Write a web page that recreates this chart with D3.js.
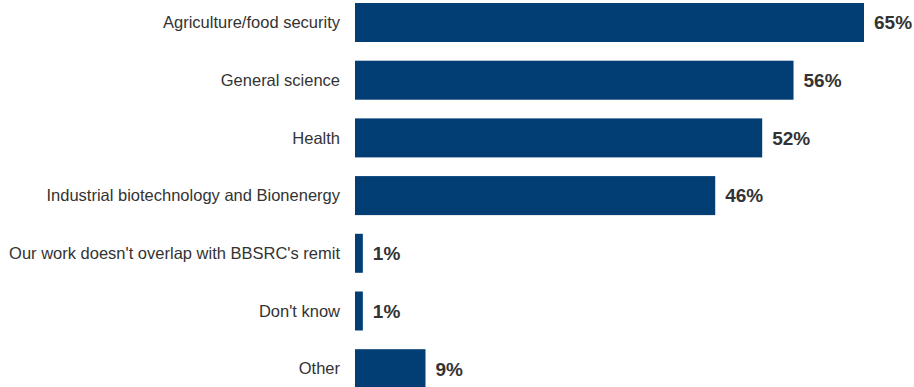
<!DOCTYPE html>
<html>
<head>
<meta charset="utf-8">
<script src="https://cdn.jsdelivr.net/npm/d3@7"></script>
<style>
  html, body { margin: 0; padding: 0; background: #fff; }
  svg { display: block; }
  text { font-family: "Liberation Sans", Arial, Helvetica, sans-serif; }
</style>
</head>
<body>
<svg id="chart" width="914" height="387"></svg>
<script>
// Research areas and the share of respondents selecting each (%)
const categories = [
  "Agriculture/food security",
  "General science",
  "Health",
  "Industrial biotechnology and Bionenergy",
  "Our work doesn't overlap with BBSRC's remit",
  "Don't know",
  "Other"
];
const values = [65, 56, 52, 46, 1, 1, 9];

const svg = d3.select("#chart");
const barColor = "#023e74";
const textColor = "#333333";

const x0 = 355;
const x = d3.scaleLinear().domain([0, 65]).range([x0, 864]);

const y = d3.scaleBand()
  .domain(categories)
  .range([3, 388.2])
  .paddingInner(0.324)
  .paddingOuter(0);

const data = categories.map((c, i) => ({ category: c, value: values[i] }));

// Bars
svg.append("g")
  .selectAll("rect")
  .data(data)
  .join("rect")
  .attr("x", x0)
  .attr("y", d => y(d.category))
  .attr("width", d => Math.max(6, x(d.value) - x0))
  .attr("height", y.bandwidth())
  .attr("fill", barColor);

// Category labels
svg.append("g")
  .selectAll("text")
  .data(data)
  .join("text")
  .attr("x", 340)
  .attr("y", d => y(d.category) + y.bandwidth() / 2)
  .attr("dy", "0.35em")
  .attr("text-anchor", "end")
  .attr("font-size", 16.5)
  .attr("fill", textColor)
  .text(d => d.category);

// Value labels
svg.append("g")
  .selectAll("text")
  .data(data)
  .join("text")
  .attr("x", d => x0 + Math.max(6, x(d.value) - x0) + 10)
  .attr("y", d => y(d.category) + y.bandwidth() / 2)
  .attr("dy", "0.36em")
  .attr("font-weight", "bold")
  .attr("font-size", 19)
  .attr("fill", textColor)
  .text(d => d.value + "%");
</script>
</body>
</html>
